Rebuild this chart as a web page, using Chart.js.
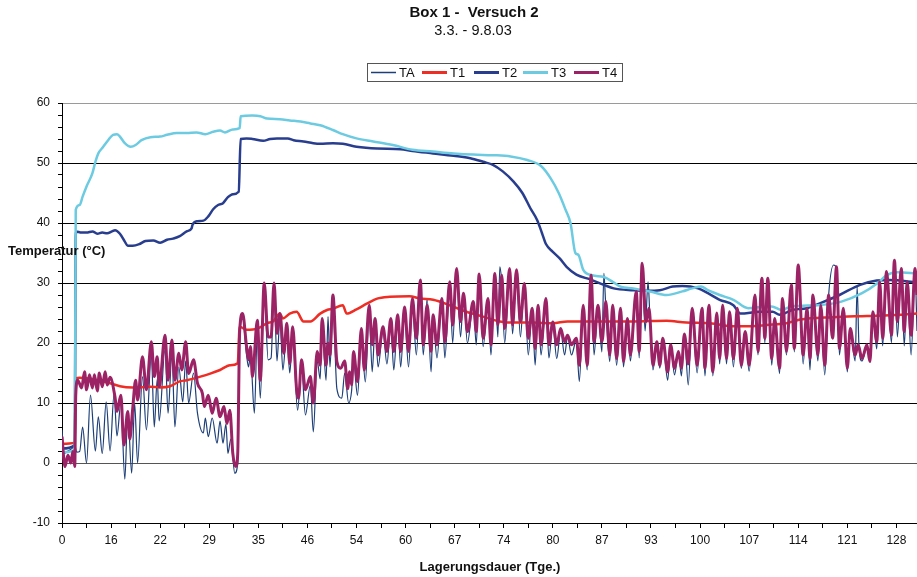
<!DOCTYPE html>
<html>
<head>
<meta charset="utf-8">
<script src="https://cdn.jsdelivr.net/npm/chart.js@4.4.1/dist/chart.umd.min.js"></script>
<style>
  html, body { margin: 0; padding: 0; background: #fff; }
  #c { display: block; }
</style>
</head>
<body>
<canvas id="c" width="917" height="577"></canvas>
<script>
// ---- texts ----
const chartTitle = 'Box 1 -  Versuch 2';
const chartSubtitle = '3.3. - 9.8.03';
const xAxisTitle = 'Lagerungsdauer (Tge.)';
const yAxisTitle = 'Temperatur (°C)';

// Day labels on the x axis; one label every 50 records
const dayLabels = ['0', '16', '22', '29', '35', '46', '54', '60', '67', '74', '80', '87', '93', '100', '107', '114', '121', '128'];
const RECORDS_PER_LABEL = 50;
const LAST_RECORD = 871;

// T4 (record number, °C)
const t4Pos = [
  0, 3, 6, 9, 11, 13, 14, 16, 20, 23,
  25, 28, 31, 33, 36, 38, 41, 44, 46, 49,
  54, 56, 60, 63, 67, 69, 72, 75, 77, 82,
  86, 91, 94, 97, 99, 105, 108, 112, 115, 119,
  122, 126, 129, 134, 138, 143, 145, 149, 153, 157,
  161, 165, 168, 171, 174, 177, 179, 181, 184, 188,
  190, 192, 194, 199, 202, 206, 210, 213, 216, 219,
  222, 226, 229, 232, 235, 239, 241, 244, 248, 253,
  256, 260, 263, 265, 269, 271, 273, 276, 280, 284,
  288, 291, 293, 295, 297, 301, 305, 308, 313, 316,
  319, 322, 327, 331, 335, 338, 342, 345, 349, 353,
  357, 361, 365, 368, 372, 376, 378, 382, 387, 390,
  395, 398, 402, 406, 409, 413, 419, 422, 425, 429,
  434, 437, 441, 444, 448, 451, 456, 459, 463, 467,
  471, 475, 479, 482, 485, 488, 493, 496, 500, 504,
  508, 512, 515, 519, 524, 527, 531, 535, 539, 542,
  546, 550, 554, 558, 561, 565, 569, 572, 576, 579,
  585, 588, 591, 595, 598, 602, 606, 609, 612, 617,
  620, 624, 628, 631, 634, 638, 642, 647, 652, 655,
  659, 663, 667, 670, 673, 677, 680, 684, 688, 692,
  696, 700, 706, 709, 713, 716, 719, 723, 726, 731,
  734, 738, 743, 746, 750, 755, 759, 762, 765, 770,
  773, 777, 781, 785, 789, 792, 796, 800, 803, 808,
  811, 815, 820, 823, 826, 830, 833, 836, 840, 845,
  848, 851, 855, 858, 861, 865, 869, 871
];
const t4Val = [
  4.4, -0.6, 1.3, 0, 1.9, -0.6, 11.3, 13.8, 12.5, 15.2,
  12.2, 14.7, 12.5, 14.7, 12, 15, 12.7, 15.2, 13, 14.3,
  11, 8.6, 11.3, 3, 8.6, 4, 9, 13.8, 10.5, 17.7,
  12.2, 20.2, 14.4, 17.7, 12.7, 21.3, 13.8, 20.5, 13.8, 18.3,
  15.5, 20.2, 14.9, 17.2, 13.3, 11.6, 9.4, 11.3, 8.3, 10.8,
  7.7, 9.4, 6.6, 8.8, 1.6, -0.6, 1.5, 22, 24.9, 19.4,
  17.2, 19.4, 14.4, 23.8, 13.8, 30, 21, 21, 30, 21.6,
  24.9, 18.3, 23.3, 16.6, 22.7, 12.2, 10.8, 17.2, 12.2, 14.4,
  10, 18.6, 16.3, 24.1, 16.3, 20, 18, 28, 16.9, 15.8,
  17, 12.4, 15.2, 13, 18.6, 13.6, 22.4, 15.5, 26.3, 19.7,
  24.1, 18, 22.7, 18.6, 24.1, 18.6, 24.7, 18.6, 26, 18.6,
  27.4, 20.8, 30.5, 19.7, 26.3, 18.6, 24.7, 19.7, 27.4, 20.2,
  30.2, 23, 32.4, 23.6, 28.3, 21.9, 26.9, 21.9, 31.5, 20.8,
  27.4, 19.7, 31.6, 23, 31.3, 22.4, 32.4, 23, 32.2, 23.6,
  29.9, 20.8, 25.8, 19.1, 26.3, 19.7, 27.4, 19.7, 23.5, 19.7,
  22.4, 20.2, 21.3, 19.7, 20.8, 16.3, 26.3, 16.3, 31.3, 20.2,
  26.3, 20.2, 26.9, 18, 26.3, 17.4, 25.8, 16.9, 24.1, 18,
  28.6, 18.6, 33.3, 23.6, 25.8, 16.3, 20.2, 16.3, 20.8, 15.2,
  19.7, 15.8, 18.6, 15.8, 21.5, 16.5, 25.8, 16.3, 25.8, 15.8,
  26.3, 15.2, 25, 17.4, 26.3, 17.4, 25.2, 17.4, 25.8, 16.3,
  21.9, 16.3, 28, 18.6, 30.8, 20.8, 30.8, 17.4, 24.1, 15.8,
  27.4, 18.6, 29.7, 19.1, 33, 18, 25.8, 17.4, 28, 18,
  26.3, 16.3, 28, 20.8, 32.7, 19.1, 25.8, 15.8, 22.4, 18,
  19.7, 17.4, 19.7, 16.9, 25.2, 20.2, 30.2, 20.8, 31.9, 21.3,
  33.8, 23.6, 32.4, 21.9, 30.2, 21.3, 32.4, 28
];

// TA (record number, °C)
const taPos = [
  0, 2, 6, 10, 13, 15, 18, 21, 25, 29,
  34, 37, 41, 45, 49, 53, 56, 60, 64, 67,
  71, 74, 77, 82, 86, 91, 94, 97, 99, 105,
  108, 112, 115, 119, 123, 126, 129, 134, 138, 144,
  146, 149, 153, 158, 161, 164, 167, 169, 172, 176,
  179, 181, 184, 188, 190, 192, 196, 199, 202, 206,
  210, 213, 216, 219, 222, 225, 229, 232, 235, 240,
  244, 248, 253, 256, 260, 263, 265, 269, 271, 273,
  276, 280, 285, 288, 292, 295, 297, 301, 305, 309,
  313, 316, 319, 322, 327, 331, 335, 338, 342, 345,
  349, 353, 357, 361, 365, 368, 372, 376, 378, 382,
  387, 390, 395, 398, 402, 406, 409, 413, 419, 422,
  425, 429, 434, 437, 441, 444, 446, 448, 451, 456,
  459, 463, 467, 471, 475, 479, 482, 485, 488, 493,
  496, 500, 504, 508, 512, 515, 519, 524, 527, 531,
  535, 539, 542, 546, 550, 552, 554, 558, 561, 565,
  569, 572, 576, 579, 585, 588, 591, 594, 597, 599,
  602, 606, 609, 612, 617, 620, 624, 628, 631, 634,
  638, 642, 647, 652, 655, 659, 663, 667, 670, 673,
  677, 680, 684, 688, 692, 696, 700, 706, 709, 713,
  716, 719, 723, 726, 731, 734, 738, 743, 746, 750,
  755, 759, 762, 765, 770, 773, 777, 781, 786, 789,
  792, 796, 800, 803, 808, 810, 812, 815, 820, 823,
  826, 830, 833, 836, 840, 845, 848, 851, 855, 858,
  861, 865, 869, 871
];
const taVal = [
  5.5, 1.6, 2, 2.4, 3, 1.8, 1.9, 6, 0, 11.3,
  2, 7.7, 1.6, 10.2, 2, 11.5, 4.5, 10, -2.7, 8.3,
  -1.7, 10, 0, 14.4, 5.5, 18, 6, 14, 7, 19,
  8.3, 18, 6, 16, 10.2, 17, 10, 15, 8.3, 5,
  7.5, 4.4, 7.5, 3.3, 7, 3.3, 6.5, 1.6, 4, -1.7,
  0, 21, 24, 18, 16, 18, 8.3, 22, 10.8, 29,
  17.2, 17.5, 29, 17, 24, 15.5, 22, 15, 21, 8.8,
  16, 8, 13, 5.2, 17, 14, 23, 13.8, 24.4, 16,
  26, 12.4, 10.8, 15, 10, 12, 17, 11.3, 21, 13.5,
  25, 15.2, 23, 16, 22, 16.5, 23, 15.5, 24, 16,
  25, 16, 26.5, 18, 29.5, 18, 27.4, 15.2, 24, 17.5,
  27, 17.5, 29.5, 20, 32.4, 21, 28, 20, 26.5, 19.7,
  31, 19.4, 27, 18, 31, 21, 32.7, 30, 20, 32,
  21.5, 32, 21, 29.5, 18, 25.5, 16.3, 26, 18, 27,
  17.5, 23, 17.4, 22, 18, 21, 18, 20.5, 13.6, 26,
  15.5, 31, 18, 26, 18.5, 31.6, 26, 16.9, 26, 16.3,
  25.5, 16, 24, 17, 28.3, 17.5, 33, 22, 30.2, 24,
  15.5, 20, 15.8, 20.5, 13.8, 19.5, 14.7, 18.5, 14.5, 21.5,
  13, 25.5, 15, 25.5, 14.5, 26, 14.5, 25, 16.5, 26,
  16.5, 25, 16, 25.5, 15.8, 21.5, 15.3, 28, 18, 30.5,
  20, 30.5, 16.3, 24, 14.9, 27, 18, 29.5, 18.5, 33,
  16.5, 25.5, 15.5, 28, 17, 26, 14.7, 28, 33, 32.5,
  18, 25.5, 15.2, 22, 17, 29.4, 19, 17, 19.5, 17.5,
  25, 19, 30, 19.5, 31.5, 20, 33.8, 21, 32, 19.5,
  30, 18, 32, 22
];

// T1 (record number, °C)
const t1Pos = [
  0, 13, 14, 18, 39, 49, 59, 72, 79, 90,
  100, 110, 120, 127, 141, 151, 161, 171, 179, 181,
  188, 199, 209, 215, 222, 225, 232, 239, 246, 253,
  263, 270, 276, 286, 290, 300, 311, 321, 334, 354,
  365, 378, 395, 412, 429, 446, 463, 480, 500, 515,
  549, 582, 616, 636, 660, 684, 701, 718, 738, 752,
  785, 820, 853, 871
];
const t1Val = [
  3.2, 3.4, 14.1, 14.2, 13.7, 13.3, 12.8, 12.6, 12.6, 12.7,
  12.6, 12.8, 13.6, 13.8, 14.4, 14.9, 15.5, 16.3, 16.6, 22.7,
  22.2, 22.4, 23.3, 23.6, 24.9, 24.1, 24.9, 25.2, 23.6, 23.6,
  24.9, 25.5, 25.7, 26.3, 24.9, 25.6, 26.6, 27.4, 27.7, 27.8,
  27.4, 27.2, 26.3, 25.2, 24.4, 23.6, 23.4, 23.4, 23.3, 23.6,
  23.6, 23.6, 23.7, 23.4, 23.3, 22.8, 22.8, 23, 23.3, 23.9,
  24.3, 24.5, 24.7, 24.9
];

// T2 (record number, °C)
const t2Pos = [
  0, 13, 14, 20, 25, 31, 36, 41, 46, 51,
  54, 59, 64, 67, 72, 79, 85, 93, 100, 107,
  113, 120, 127, 132, 133, 138, 144, 149, 154, 159,
  164, 169, 174, 180, 182, 188, 194, 205, 212, 219,
  230, 236, 246, 256, 263, 276, 286, 300, 321, 345,
  357, 378, 399, 416, 429, 439, 449, 460, 469, 477,
  484, 489, 493, 500, 507, 514, 524, 538, 552, 562,
  582, 596, 609, 622, 632, 648, 658, 670, 684, 691,
  711, 724, 731, 744, 759, 772, 792, 813, 830, 843,
  871
];
const t2Val = [
  2.4, 3, 38.6, 38.4, 38.4, 38.6, 38.2, 38.4, 38.3, 38.6,
  38.8, 38.2, 36.9, 36.2, 36.2, 36.5, 37, 37.1, 36.7, 37.2,
  37.4, 37.8, 38.6, 39.1, 39.7, 40.3, 40.4, 41.1, 42.3, 43,
  43.3, 44.3, 44.8, 45.2, 54, 54.1, 54, 53.7, 54, 54.1,
  54.1, 53.8, 53.6, 53.3, 53.2, 53.3, 53.2, 52.7, 52.4, 52.3,
  52, 51.6, 51.2, 50.8, 50.2, 49.7, 48.6, 46.9, 45, 42.5,
  40.5, 38.3, 36.5, 35.2, 34.1, 32.7, 31.4, 30.6, 29.7, 29.1,
  28.8, 28.7, 28.8, 29.4, 29.5, 29.1, 28.3, 27.2, 26.3, 24.9,
  25.2, 25.2, 24.7, 25.5, 25.8, 26.6, 28, 29.7, 30.4, 30.5,
  30.1
];

// T3 (record number, °C)
const t3Pos = [
  0, 13, 14, 18, 21, 25, 31, 34, 37, 42,
  47, 52, 56, 59, 64, 70, 75, 81, 90, 100,
  107, 117, 127, 137, 146, 154, 161, 166, 174, 181,
  182, 194, 202, 209, 222, 232, 243, 253, 263, 276,
  286, 300, 317, 337, 357, 378, 399, 419, 439, 457,
  474, 488, 498, 506, 513, 518, 523, 526, 531, 540,
  552, 561, 569, 582, 599, 616, 632, 642, 651, 658,
  670, 684, 699, 711, 723, 733, 743, 770, 794, 815,
  831, 840, 851, 871
];
const t3Val = [
  1.8, 2.2, 42.2, 43, 44.4, 46.1, 48.3, 50.2, 51.6, 52.7,
  53.8, 54.7, 54.8, 54.4, 53.3, 52.7, 53, 53.8, 54.3, 54.4,
  54.7, 55, 55, 55.1, 54.8, 55.2, 55.4, 55.1, 55.6, 55.8,
  57.8, 57.9, 57.8, 57.4, 57.3, 57.1, 56.9, 56.6, 56.3, 55.5,
  54.8, 54.1, 53.6, 53, 52.2, 51.9, 51.6, 51.4, 51.3, 51.1,
  50.5, 49.5, 47.4, 45, 42.2, 40, 35, 34.7, 32.2, 31.3,
  31, 30.2, 29.4, 29.1, 28.6, 28, 28.6, 29.1, 29.4, 28.8,
  28, 27.2, 25.8, 26, 26.1, 25.5, 26.1, 26.3, 26.9, 28.3,
  30, 31.3, 31.8, 31.6
];

const toPoints = (pos, val) => pos.map((x, i) => ({ x, y: val[i] }));

const FONT = '"Liberation Sans", Arial, Helvetica, sans-serif';
Chart.defaults.font.family = FONT;

// Titles, legend and axis captions drawn straight onto the canvas
const decorations = {
  id: 'decorations',
  beforeDraw(chart) {
    const ctx = chart.ctx;
    ctx.save();
    ctx.fillStyle = '#fff';
    ctx.fillRect(0, 0, chart.width, chart.height);
    ctx.restore();
  },
  afterDraw(chart) {
    const ctx = chart.ctx;
    ctx.save();
    ctx.fillStyle = '#111';
    ctx.textBaseline = 'middle';
    ctx.textAlign = 'center';
    ctx.font = 'bold 15px ' + FONT;
    ctx.fillText(chartTitle, 474, 13);
    ctx.font = '14.5px ' + FONT;
    ctx.fillText(chartSubtitle, 473, 31);

    // legend
    ctx.strokeStyle = '#555';
    ctx.lineWidth = 1;
    ctx.strokeRect(367.5, 63.5, 255, 18);
    ctx.font = '13px ' + FONT;
    ctx.textAlign = 'left';
    const ly = 72.5;
    const itemStart = [371, 422, 474, 523, 574];
    chart.data.datasets.forEach((ds, i) => {
      const lx = itemStart[i];
      ctx.strokeStyle = ds.borderColor;
      ctx.lineWidth = ds.legendLineWidth;
      ctx.beginPath();
      ctx.moveTo(lx, ly);
      ctx.lineTo(lx + 25, ly);
      ctx.stroke();
      ctx.fillStyle = '#111';
      ctx.fillText(ds.label, lx + 28, ly + 0.5);
    });

    // axis captions
    ctx.font = 'bold 13px ' + FONT;
    ctx.textAlign = 'center';
    ctx.fillText(xAxisTitle, 490, 567);
    ctx.textAlign = 'left';
    ctx.fillText(yAxisTitle, 8, 251);
    ctx.restore();
  }
};

const lineStyle = (label, color, width, legendWidth, order) => ({
  label,
  borderColor: color,
  backgroundColor: color,
  borderWidth: width,
  legendLineWidth: legendWidth,
  pointRadius: 0,
  fill: false,
  cubicInterpolationMode: 'monotone',
  order
});

new Chart(document.getElementById('c'), {
  type: 'line',
  data: {
    datasets: [
      { ...lineStyle('TA', '#1d3f78', 1.2, 1.5, 5), data: toPoints(taPos, taVal) },
      { ...lineStyle('T1', '#ee2d24', 2.5, 3, 4), data: toPoints(t1Pos, t1Val) },
      { ...lineStyle('T2', '#283d8e', 2.5, 3, 3), data: toPoints(t2Pos, t2Val) },
      { ...lineStyle('T3', '#6ccbe1', 2.5, 3, 2), data: toPoints(t3Pos, t3Val) },
      { ...lineStyle('T4', '#9c2266', 3, 3, 1), data: toPoints(t4Pos, t4Val) }
    ]
  },
  options: {
    responsive: false,
    animation: false,
    devicePixelRatio: 1,
    parsing: false,
    layout: { padding: { top: 103, left: 0, right: 0, bottom: 0 } },
    plugins: {
      legend: { display: false },
      title: { display: false },
      tooltip: { enabled: false }
    },
    scales: {
      x: {
        type: 'linear',
        min: 0,
        max: LAST_RECORD,
        afterBuildTicks: s => { s.ticks = s.ticks.filter(t => t.value % (RECORDS_PER_LABEL / 2) === 0); },
        afterFit: s => { s.height = 54; },
        ticks: {
          stepSize: RECORDS_PER_LABEL / 2,
          includeBounds: false,
          autoSkip: false,
          maxRotation: 0,
          padding: 5,
          color: '#111',
          font: { size: 12 },
          callback: v => (v % RECORDS_PER_LABEL === 0 ? dayLabels[v / RECORDS_PER_LABEL] : '')
        },
        grid: { drawOnChartArea: false, drawTicks: true, tickLength: 5, color: '#000' },
        border: { display: true, color: '#000', width: 1 }
      },
      y: {
        min: -10,
        max: 60,
        afterFit: s => { s.width = 62; },
        ticks: {
          stepSize: 2,
          autoSkip: false,
          padding: 8,
          color: '#111',
          font: { size: 12 },
          callback: v => (v % 10 === 0 ? String(v) : '')
        },
        grid: {
          color: c => {
            const v = c.tick.value;
            if (v % 10 !== 0) return 'rgba(0,0,0,0)';
            if (v === 60) return '#9a9a9a';
            if (v === 0) return '#555';
            return '#000';
          },
          tickColor: '#000',
          tickLength: 4,
          lineWidth: 1
        },
        border: { display: true, color: '#000', width: 1 }
      }
    }
  },
  plugins: [decorations]
});
</script>
</body>
</html>
